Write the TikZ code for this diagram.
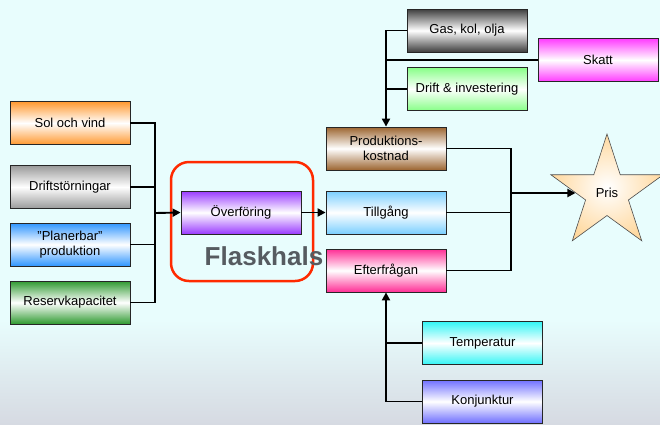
\documentclass[tikz,border=0pt]{standalone}
\usepackage{fontspec}
\setmainfont{Liberation Sans}
\usetikzlibrary{arrows.meta,shapes.geometric,calc}
\definecolor{bg}{HTML}{E8FDFD}
\definecolor{bgbot}{HTML}{D6DAE2}
\definecolor{cOrange}{HTML}{FF9930}
\definecolor{cGray}{HTML}{9A9A9A}
\definecolor{cBlue}{HTML}{2E95FF}
\definecolor{cGreen}{HTML}{2F9A30}
\definecolor{cPurple}{HTML}{9A3BFF}
\definecolor{cBrown}{HTML}{9C6530}
\definecolor{cLBlue}{HTML}{7ACFFF}
\definecolor{cPink}{HTML}{FF2E95}
\definecolor{cDark}{HTML}{3E3E3E}
\definecolor{cMagenta}{HTML}{FF3BFF}
\definecolor{cLGreen}{HTML}{88FF88}
\definecolor{cCyan}{HTML}{33F5F5}
\definecolor{cViolet}{HTML}{7070FF}
\definecolor{cPeach}{HTML}{FFD9A0}
\definecolor{cRed}{HTML}{FF2A00}
\definecolor{cText}{HTML}{565B60}
\begin{document}
\begin{tikzpicture}[x=1pt,y=-1pt,
  box/.style={draw=black!85, line width=0.8pt, minimum width=120pt, minimum height=43pt,
    inner sep=0pt, font=\fontsize{13}{15.5}\selectfont, align=center,
    top color=#1, bottom color=#1, middle color=white},
  conn/.style={line width=1.9pt, black},
  arr/.style={conn, -{Triangle[length=8pt,width=8pt]}}]
\useasboundingbox (0,0) rectangle (660,424);
\fill[bg] (0,0) rectangle (660,424);
\shade[top color=bg, bottom color=bgbot] (0,320) rectangle (660,424);

% left boxes
\node[box=cOrange] (sol) at (70,123) {Sol och vind};
\node[box=cGray] (drift) at (70,187) {Driftstörningar};
\node[box=cBlue] (plan) at (70,244.5) {”Planerbar”\\produktion};
\node[box=cGreen] (reserv) at (70,302.5) {Reservkapacitet};

% bottleneck
\node[draw=cRed, line width=2.5pt, rounded corners=18pt, minimum width=142pt, minimum height=119pt] (flask) at (242,221.5) {};
\node[box=cPurple] (over) at (241,212.5) {Överföring};

% middle right boxes
\node[box=cBrown] (prod) at (386,148.5) {Produktions-\\kostnad};
\node[box=cLBlue] (till) at (386,212.5) {Tillgång};
\node[text=cText, font=\fontsize{26}{28}\selectfont\bfseries, inner sep=0pt] (flasktext) at (264,256) {Flaskhals};
\node[box=cPink] (efter) at (386,270.5) {Efterfrågan};

% top boxes
\node[box=cDark] (gas) at (467,30.5) {Gas, kol, olja};
\node[box=cMagenta] (skatt) at (598,60) {Skatt};
\node[box=cLGreen] (dinv) at (467,89) {Drift \& investering};

% bottom boxes
\node[box=cCyan] (temp) at (482.5,343) {Temperatur};
\node[box=cViolet] (konj) at (482.5,401.5) {Konjunktur};

% star
\node[star, star points=5, star point ratio=2.618, minimum size=118pt, inner sep=0pt,
  draw=black!70, line width=0.6pt, shading=radial, inner color=white, outer color=cPeach,
  font=\fontsize{13}{15.5}\selectfont] (pris) at (607,193) {Pris};

% connectors
\coordinate (lb) at (155,213);
\coordinate (rb) at (511,193);
\draw[conn] (sol.east) -| (lb) |- (reserv.east);
\draw[conn] (drift.east) -- (drift.east -| lb);
\draw[conn] (plan.east) -- (plan.east -| lb);
\draw[arr] (lb) -- (over.west);
\draw[arr] (over.east) -- (till.west);

\draw[conn] (prod.east) -| (rb) |- (efter.east);
\draw[conn] (till.east) -- (till.east -| rb);
\draw[arr] (rb) -- (pris);

\draw[arr] (gas.west) -| (prod.north);
\draw[conn] (skatt.west) -- (skatt.west -| prod.north);
\draw[conn] (dinv.west) -- (dinv.west -| prod.north);

\draw[arr] (konj.west) -| (efter.south);
\draw[conn] (temp.west) -- (temp.west -| efter.south);
\end{tikzpicture}
\end{document}
